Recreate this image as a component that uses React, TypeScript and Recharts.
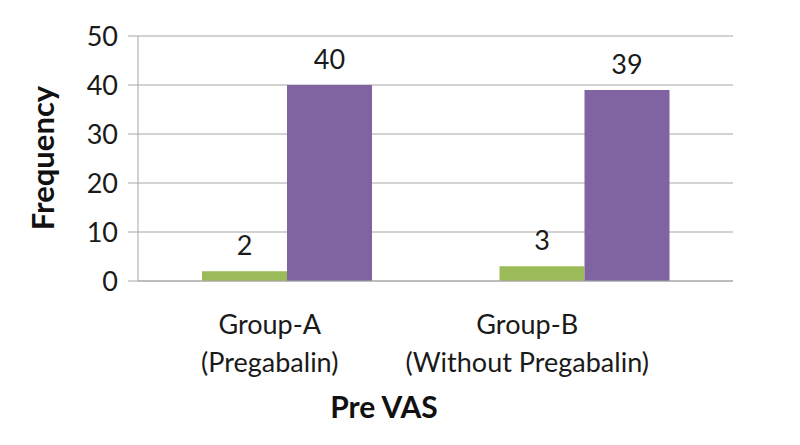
import React from "react";
import { BarChart, Bar, XAxis, YAxis, CartesianGrid, LabelList, Label } from "recharts";

const categories = ["Group-A|(Pregabalin)", "Group-B|(Without Pregabalin)"];
const seriesGreen = [2, 3];
const seriesPurple = [40, 39];
const yTicks = [0, 10, 20, 30, 40, 50];

const data = categories.map((c, i) => ({ name: c, green: seriesGreen[i], purple: seriesPurple[i] }));

const FONT = "Lato, 'Open Sans', sans-serif";
const labelShift = [17, 57];

const CatTick = (props: any) => {
  const { x, y, payload, index } = props;
  const lines = String(payload.value).split("|");
  const cx = x - (labelShift[index] ?? 0);
  return (
    <text x={cx} y={y} textAnchor="middle" fill="#1a1a1a" fontFamily={FONT} fontSize={27}>
      <tspan x={cx} dy={45}>{lines[0]}</tspan>
      <tspan x={cx} dy={38}>{lines[1]}</tspan>
    </text>
  );
};

export default function App() {
  return (
    <div style={{ position: "absolute", left: 0, top: 0, width: 800, height: 445, background: "#fff" }}>
      <BarChart
        width={800}
        height={445}
        data={data}
        margin={{ top: 36, right: 67, bottom: 64, left: 0 }}
        barGap={0}
        barSize={85}
      >
        <CartesianGrid vertical={false} stroke="#a6a6a6" strokeWidth={1} />
        <XAxis
          dataKey="name"
          height={100}
          tickLine={false}
          axisLine={{ stroke: "#a6a6a6" }}
          tick={<CatTick />}
          interval={0}
        >
          <Label
            content={() => (
              <text x={384} y={418} textAnchor="middle" fontFamily={FONT} fontWeight="bold" fontSize={30} fill="#111">
                Pre VAS
              </text>
            )}
          />
        </XAxis>
        <YAxis
          width={138}
          domain={[0, 50]}
          ticks={yTicks}
          tickSize={10}
          tickMargin={10}
          tickLine={{ stroke: "#a6a6a6" }}
          axisLine={{ stroke: "#a6a6a6" }}
          tick={{ fill: "#1a1a1a", fontFamily: FONT, fontSize: 27 }}
        >
          <Label
            content={() => (
              <text
                x={42}
                y={158}
                transform="rotate(-90 42 158)"
                textAnchor="middle"
                dominantBaseline="central"
                fontFamily={FONT}
                fontWeight="bold"
                fontSize={31}
                fill="#111"
              >
                Frequency
              </text>
            )}
          />
        </YAxis>
        <Bar dataKey="green" fill="#9bbb59" isAnimationActive={false}>
          <LabelList dataKey="green" position="top" offset={16} fill="#1a1a1a" fontFamily={FONT} fontSize={27} />
        </Bar>
        <Bar dataKey="purple" fill="#8064a2" isAnimationActive={false}>
          <LabelList dataKey="purple" position="top" offset={16} fill="#1a1a1a" fontFamily={FONT} fontSize={27} />
        </Bar>
      </BarChart>
    </div>
  );
}
